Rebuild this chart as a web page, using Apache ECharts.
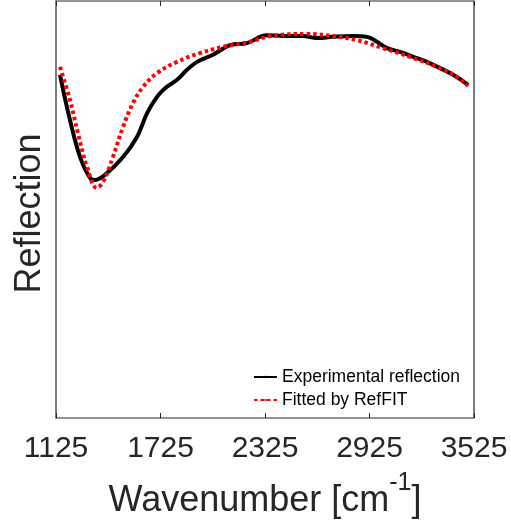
<!DOCTYPE html>
<html>
<head>
<meta charset="utf-8">
<script src="https://cdn.jsdelivr.net/npm/echarts@6/dist/echarts.min.js"></script>
<style>html,body{margin:0;padding:0;background:#fff;}#c{width:511px;height:527px;}</style>
</head>
<body>
<div id="c"></div>
<script>
var xTicks = [1125, 1725, 2325, 2925, 3525];
var expWn = [1148,1205,1263,1320,1349,1406,1510,1590,1648,1705,1751,1820,1877,1935,2026,2124,2222,2336,2428,2543,2624,2715,2830,2911,2968,3026,3100,3198,3255,3330,3405,3491];
var expR  = [0.823,0.715,0.626,0.576,0.571,0.583,0.626,0.674,0.731,0.770,0.791,0.811,0.835,0.854,0.871,0.894,0.899,0.918,0.916,0.916,0.911,0.914,0.916,0.914,0.902,0.887,0.878,0.863,0.854,0.839,0.823,0.799];
var fitWn = [1148,1205,1251,1303,1360,1395,1452,1510,1567,1625,1705,1820,1952,2084,2239,2354,2566,2715,2853,3002,3158,3313,3428,3491];
var fitR  = [0.842,0.763,0.683,0.602,0.552,0.566,0.626,0.698,0.755,0.794,0.827,0.854,0.875,0.890,0.902,0.916,0.921,0.916,0.906,0.887,0.866,0.842,0.818,0.796];

function pairs(a, b) { return a.map(function (v, i) { return [v, b[i]]; }); }

var font = 'Liberation Sans, Arial, Helvetica, sans-serif';
var chart = echarts.init(document.getElementById('c'));
chart.setOption({
  animation: false,
  textStyle: { fontFamily: font },
  grid: { left: 56, right: 37, top: 1, bottom: 109, show: true, borderColor: '#262626', borderWidth: 1.2, backgroundColor: '#fff',
    containLabel: false, outerBoundsMode: 'none' },
  legend: {
    orient: 'vertical', left: 253, top: 368, padding: 0, itemWidth: 23, itemHeight: 3, itemGap: 5,
    textStyle: { fontSize: 17.5, color: '#000', fontFamily: font },
    data: ['Experimental reflection', 'Fitted by RefFIT']
  },
  xAxis: [{
    type: 'value', min: 1125, max: 3525, interval: 600,
    axisLine: { show: false },
    axisTick: { show: true, inside: true, length: 5, lineStyle: { color: '#262626', width: 1 } },
    splitLine: { show: false },
    axisLabel: { fontSize: 30, color: '#262626', margin: 16, fontFamily: font,
      customValues: xTicks, formatter: function (v) { return String(v); } },
    name: 'Wavenumber [cm{sup|-1}]', nameLocation: 'middle', nameGap: 53,
    nameTextStyle: { fontSize: 36, color: '#262626', fontFamily: font,
      rich: { sup: { fontSize: 25, verticalAlign: 'top', color: '#262626', fontFamily: font, padding: [0, 0, 35, 0] } } }
  }, {
    type: 'value', position: 'top', min: 1125, max: 3525, interval: 600,
    axisLine: { show: false },
    axisTick: { show: true, inside: true, length: 5, lineStyle: { color: '#262626', width: 1 } },
    axisLabel: { show: false }, splitLine: { show: false }
  }],
  yAxis: {
    type: 'value', min: 0, max: 1,
    axisLine: { show: false }, axisTick: { show: false }, axisLabel: { show: false }, splitLine: { show: false },
    name: 'Reflection', nameLocation: 'middle', nameGap: 8, nameRotate: 90,
    nameTextStyle: { fontSize: 36, color: '#262626', fontFamily: font, padding: [0, 8, 0, 0] }
  },
  series: [{
    name: 'Experimental reflection', type: 'line', smooth: 0.4, symbol: 'none',
    data: pairs(expWn, expR),
    lineStyle: { color: '#000', width: 4 }, itemStyle: { color: '#000' }
  }, {
    name: 'Fitted by RefFIT', type: 'line', smooth: 0.4, symbol: 'none',
    data: pairs(fitWn, fitR),
    lineStyle: { color: '#ff0000', width: 4, type: [3.5, 3], cap: 'butt' }, itemStyle: { color: '#ff0000' }
  }]
});
</script>
</body>
</html>
